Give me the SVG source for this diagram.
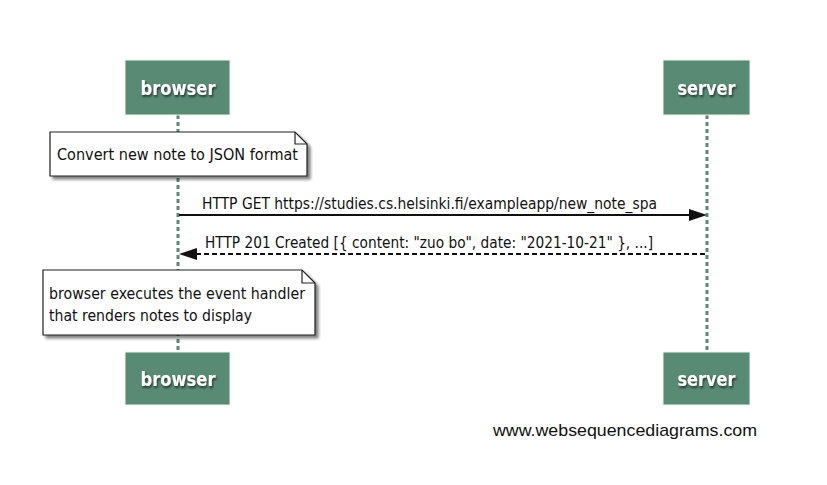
<svg xmlns="http://www.w3.org/2000/svg" width="827" height="485" viewBox="0 0 827 485">
<style>
.actor rect{fill:#588a74;stroke:#eef3f0;stroke-width:1}
.actor text{font-family:"DejaVu Sans","Liberation Sans",sans-serif;font-weight:bold;font-size:19px;fill:#fff;text-anchor:middle;filter:url(#ts)}
.life{stroke:#588a74;stroke-width:3;stroke-dasharray:4,3;fill:none}
.note path.body{fill:#fff;stroke:#222;stroke-width:1.2;filter:url(#sh)}
.note path.fold{fill:none;stroke:#222;stroke-width:1.2}
.t{font-family:"DejaVu Sans","Liberation Sans",sans-serif;font-size:15px;fill:#111}
.msg{stroke:#111;stroke-width:2;fill:none}
</style>
<defs>
<filter id="sh" x="-10%" y="-20%" width="130%" height="150%">
<feGaussianBlur in="SourceAlpha" stdDeviation="1.5"/>
<feOffset dx="3" dy="3" result="o"/>
<feComponentTransfer><feFuncA type="linear" slope="0.5"/></feComponentTransfer>
<feMerge><feMergeNode/><feMergeNode in="SourceGraphic"/></feMerge>
</filter>
<filter id="ts" x="-10%" y="-30%" width="130%" height="160%">
<feGaussianBlur in="SourceAlpha" stdDeviation="1"/>
<feOffset dx="1" dy="1.5" result="o"/>
<feComponentTransfer><feFuncA type="linear" slope="0.6"/></feComponentTransfer>
<feMerge><feMergeNode/><feMergeNode in="SourceGraphic"/></feMerge>
</filter>
</defs>
<rect width="827" height="485" fill="#fff"/>
<g id="lifelines">
<line class="life" x1="178" y1="115" x2="178" y2="352"/>
<line class="life" x1="707" y1="115" x2="707" y2="352"/>
</g>
<g id="browser-top" class="actor"><rect x="125" y="60" width="105" height="55"/><text x="178" y="95" textLength="75" lengthAdjust="spacingAndGlyphs">browser</text></g>
<g id="server-top" class="actor"><rect x="663" y="60" width="87" height="55"/><text x="706.5" y="95" textLength="58" lengthAdjust="spacingAndGlyphs">server</text></g>
<g id="browser-bottom" class="actor"><rect x="125" y="352" width="105" height="53"/><text x="178" y="386" textLength="75" lengthAdjust="spacingAndGlyphs">browser</text></g>
<g id="server-bottom" class="actor"><rect x="663" y="352" width="87" height="53"/><text x="706.5" y="386" textLength="58" lengthAdjust="spacingAndGlyphs">server</text></g>
<g id="note1" class="note">
<path class="body" d="M50,132 H295 L307,144 V176 H50 Z"/>
<path class="fold" d="M295,132 V144 H307"/>
<text class="t" x="57" y="160" textLength="241" lengthAdjust="spacingAndGlyphs">Convert new note to JSON format</text>
</g>
<g id="connectors">
<line class="msg" x1="179" y1="215" x2="690" y2="215"/>
<polygon points="707,215 689,209 689,221" fill="#111"/>
<text class="t" x="202" y="209" textLength="455" lengthAdjust="spacingAndGlyphs">HTTP GET https://studies.cs.helsinki.fi/exampleapp/new_note_spa</text>
<line class="msg" x1="196" y1="254" x2="706" y2="254" stroke-dasharray="5,3"/>
<polygon points="179,254 197,248 197,260" fill="#111"/>
<text class="t" x="205" y="248" textLength="448" lengthAdjust="spacingAndGlyphs">HTTP 201 Created [{ content: "zuo bo", date: "2021-10-21" }, ...]</text>
</g>
<g id="note2" class="note">
<path class="body" d="M43,270 H302 L315,283 V335 H43 Z"/>
<path class="fold" d="M302,270 V283 H315"/>
<text class="t" x="49" y="299" textLength="256" lengthAdjust="spacingAndGlyphs">browser executes the event handler</text>
<text class="t" x="49" y="321" textLength="203" lengthAdjust="spacingAndGlyphs">that renders notes to display</text>
</g>
<text x="493" y="436" font-family="Liberation Sans, Arial, sans-serif" font-size="17" fill="#111" textLength="264" lengthAdjust="spacingAndGlyphs">www.websequencediagrams.com</text>
</svg>
